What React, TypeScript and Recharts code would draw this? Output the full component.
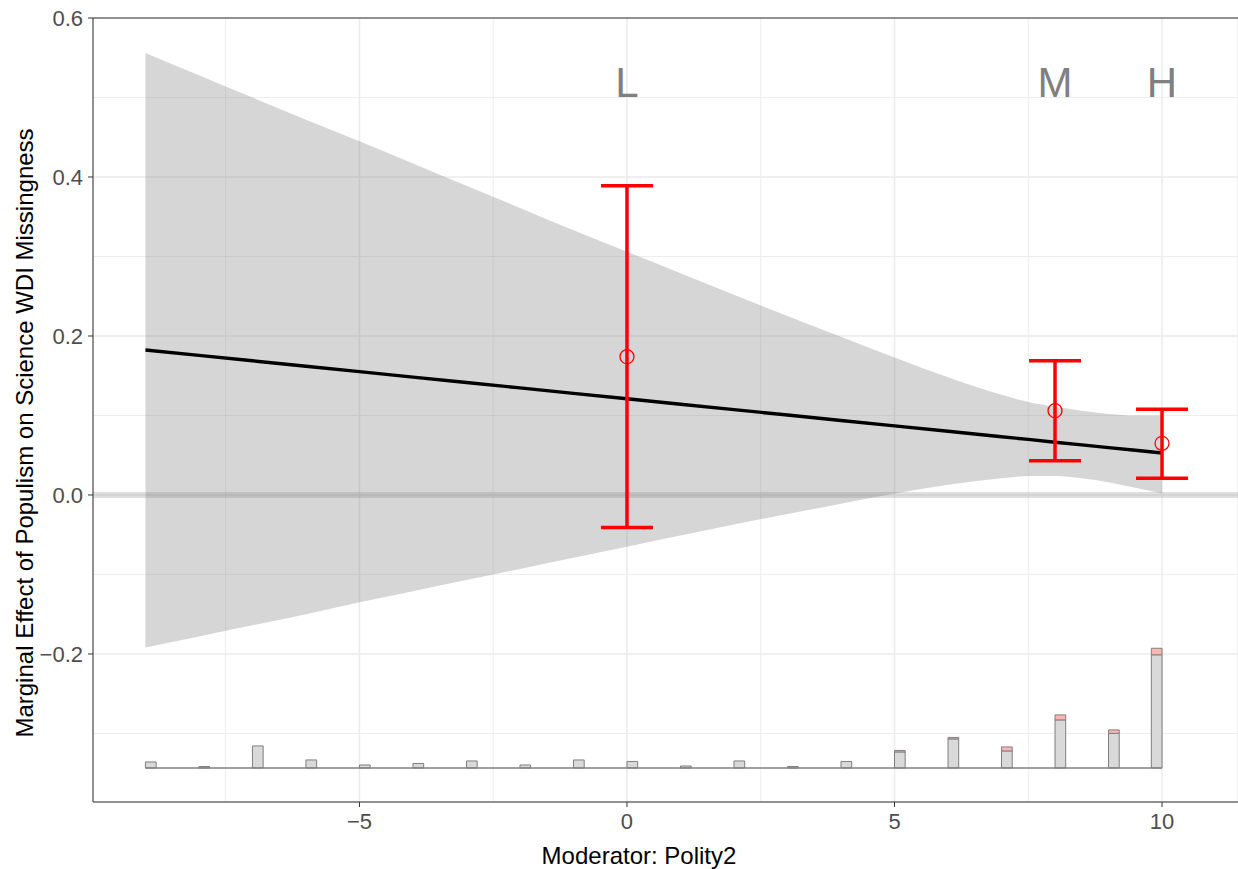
import {
  ComposedChart,
  Area,
  Line,
  Scatter,
  ErrorBar,
  XAxis,
  YAxis,
  CartesianGrid,
  ReferenceLine,
  ReferenceArea,
  ReferenceDot,
} from 'recharts'

const FONT = "'Liberation Sans', Arial, Helvetica, sans-serif"

// marginal effect of populism along the moderator, with its 95% band
const modX = [-9, -8, -7, -6, -5, -4, -3, -2, -1, 0, 1, 2, 3, 4, 5, 6, 7, 7.5, 8, 8.5, 9, 9.5, 10]
const effect = [0.1824, 0.1756, 0.1688, 0.1619, 0.1551, 0.1483, 0.1415, 0.1347, 0.1278, 0.121, 0.1142, 0.1074, 0.1006, 0.0937, 0.0869, 0.0801, 0.0733, 0.0699, 0.0664, 0.063, 0.0596, 0.0562, 0.0528]
const ciLow = [-0.192, -0.178, -0.164, -0.15, -0.135, -0.121, -0.107, -0.093, -0.079, -0.065, -0.051, -0.037, -0.024, -0.011, 0.002, 0.013, 0.021, 0.024, 0.024, 0.021, 0.016, 0.009, 0.002]
const ciHigh = [0.556, 0.528, 0.5, 0.472, 0.445, 0.417, 0.389, 0.361, 0.333, 0.306, 0.279, 0.252, 0.225, 0.199, 0.173, 0.148, 0.126, 0.117, 0.111, 0.106, 0.102, 0.1, 0.1]

// binning estimates (L, M, H)
const binLabels = ['L', 'M', 'H']
const binX = [0, 8, 10]
const binEst = [0.174, 0.106, 0.065]
const binLow = [-0.041, 0.043, 0.021]
const binHigh = [0.389, 0.169, 0.108]

// distribution of the moderator (bin start, control / treated counts)
const histStart = [-9, -8, -7, -6, -5, -4, -3, -2, -1, 0, 1, 2, 3, 4, 5, 6, 7, 8, 9, 9.8]
const histControl = [6, 1.5, 22, 8, 3, 4.5, 7, 3, 8, 6.5, 2, 7, 1.5, 6.5, 16, 29, 17, 48, 34.5, 113]
const histTreated = [0, 0, 0, 0, 0, 0, 0, 0, 0, 0, 0, 0, 0, 0, 1.5, 1.5, 4, 5, 3.5, 6.5]
const HIST_WIDTH = 0.2
const HIST_BASE = -0.3434
const HIST_UNIT = 0.00126

const xTicks = [-5, 0, 5, 10]
const yTicks = [-0.2, 0, 0.2, 0.4, 0.6]
const xDomain: [number, number] = [-9.98, 11.42]
const yDomain: [number, number] = [-0.3862, 0.6]

const bandData = modX.map((x, i) => ({
  x,
  effect: effect[i],
  range: [ciLow[i], ciHigh[i]],
}))

const binData = binX.map((x, i) => ({
  x,
  est: binEst[i],
  err: [binEst[i] - binLow[i], binHigh[i] - binEst[i]],
}))

const fmtX = (v: number) => (v < 0 ? '\u2212' + Math.abs(v) : String(v))
const fmtY = (v: number) => (v < 0 ? '\u2212' + Math.abs(v).toFixed(1) : v.toFixed(1))

const OpenCircle = (props: any) => {
  const { cx, cy } = props
  return <circle cx={cx} cy={cy} r={7} fill="none" stroke="#FF0000" strokeWidth={1.3} />
}

export default function App() {
  return (
    <div style={{ position: 'relative', width: 1238, height: 869, fontFamily: FONT }}>
      <style>{'body{margin:0;background:#fff}'}</style>
      <ComposedChart
        width={1238}
        height={869}
        data={bandData}
        margin={{ top: 16, right: 0, left: 0, bottom: 0 }}
      >
        <CartesianGrid
          stroke="#EBEBEB"
          strokeWidth={0.9}
          verticalValues={[-7.5, -2.5, 2.5, 7.5]}
          horizontalValues={[-0.3, -0.1, 0.1, 0.3, 0.5]}
        />
        <CartesianGrid stroke="#EBEBEB" strokeWidth={1.5} />
        <XAxis
          dataKey="x"
          type="number"
          domain={xDomain}
          ticks={xTicks}
          allowDataOverflow
          tickFormatter={fmtX}
          height={67}
          tickSize={5}
          tickMargin={6}
          tick={{ fill: '#4D4D4D', fontSize: 22, fontFamily: FONT }}
          tickLine={{ stroke: '#333333' }}
          axisLine={{ stroke: '#333333' }}
        />
        <XAxis
          xAxisId="top"
          orientation="top"
          type="number"
          domain={xDomain}
          allowDataOverflow
          height={2}
          tick={false}
          tickLine={false}
          axisLine={{ stroke: '#333333' }}
        />
        <YAxis
          type="number"
          domain={yDomain}
          ticks={yTicks}
          allowDataOverflow
          tickFormatter={fmtY}
          width={93}
          tickSize={5}
          tickMargin={5}
          tick={{ fill: '#4D4D4D', fontSize: 22, fontFamily: FONT }}
          tickLine={{ stroke: '#333333' }}
          axisLine={{ stroke: '#333333' }}
        />

        <Area
          dataKey="range"
          type="monotone"
          fill="#7F7F7F"
          fillOpacity={0.32}
          stroke="none"
          isAnimationActive={false}
        />
        <ReferenceLine y={0} stroke="#808080" strokeOpacity={0.25} strokeWidth={6} />
        <Line
          dataKey="effect"
          type="linear"
          stroke="#000000"
          strokeWidth={3.4}
          dot={false}
          isAnimationActive={false}
        />

        <ReferenceLine
          segment={[
            { x: histStart[0], y: HIST_BASE },
            { x: histStart[histStart.length - 1] + HIST_WIDTH, y: HIST_BASE },
          ]}
          stroke="#808080"
          strokeWidth={1.5}
        />
        {histStart.map((s, i) => (
          <ReferenceArea
            key={`c-${i}`}
            x1={s}
            x2={s + HIST_WIDTH}
            y1={HIST_BASE}
            y2={HIST_BASE + histControl[i] * HIST_UNIT}
            fill="#D9D9D9"
            fillOpacity={1}
            stroke="#7F7F7F"
            strokeWidth={1}
          />
        ))}
        {histStart.map((s, i) =>
          histTreated[i] > 0 ? (
            <ReferenceArea
              key={`t-${i}`}
              x1={s}
              x2={s + HIST_WIDTH}
              y1={HIST_BASE + histControl[i] * HIST_UNIT}
              y2={HIST_BASE + (histControl[i] + histTreated[i]) * HIST_UNIT}
              fill="#FFB3B3"
              fillOpacity={1}
              stroke="#7F7F7F"
              strokeWidth={1}
            />
          ) : null
        )}

        <Scatter data={binData} dataKey="est" shape={OpenCircle} isAnimationActive={false}>
          <ErrorBar dataKey="err" direction="y" width={26} stroke="#FF0000" strokeWidth={3.5} />
        </Scatter>

        {binX.map((x, i) => (
          <ReferenceDot
            key={binLabels[i]}
            x={x}
            y={0.5}
            r={0}
            shape={(p: any) => (
              <text
                x={p.cx}
                y={p.cy}
                textAnchor="middle"
                fontSize={42}
                fontFamily={FONT}
                fill="#808080"
              >
                {binLabels[i]}
              </text>
            )}
          />
        ))}
      </ComposedChart>

      <svg
        width={1238}
        height={869}
        style={{ position: 'absolute', left: 0, top: 0, pointerEvents: 'none' }}
      >
        <text
          x={33}
          y={433}
          transform="rotate(-90, 33, 433)"
          textAnchor="middle"
          fontSize={24}
          fontFamily={FONT}
          fill="#000000"
        >
          Marginal Effect of Populism on Science WDI Missingness
        </text>
        <text x={639} y={864} textAnchor="middle" fontSize={24} fontFamily={FONT} fill="#000000">
          Moderator: Polity2
        </text>
      </svg>
    </div>
  )
}
